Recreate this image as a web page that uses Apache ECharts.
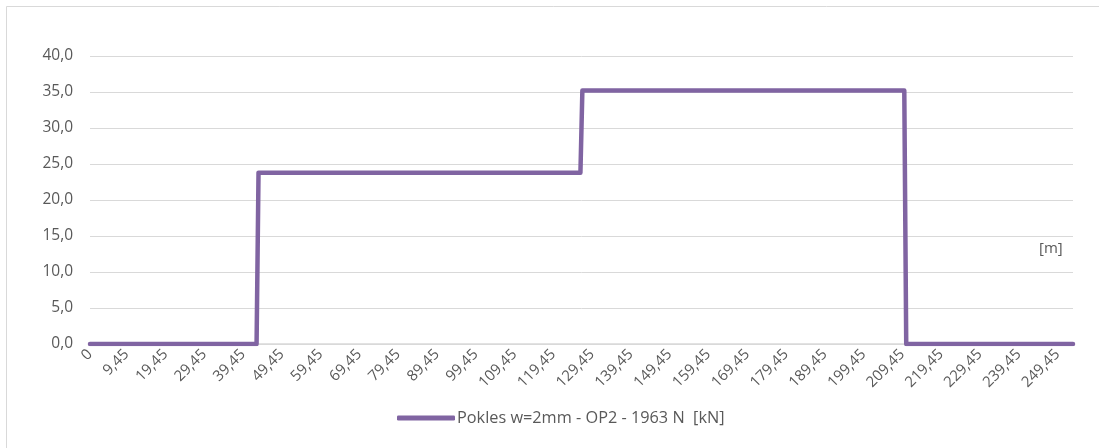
<!DOCTYPE html>
<html>
<head>
<meta charset="utf-8">
<script src="https://cdn.jsdelivr.net/npm/echarts@6/dist/echarts.min.js"></script>
<style>
  html, body { margin: 0; padding: 0; background: #fff; }
  #chart { width: 1099px; height: 448px; }
</style>
</head>
<body>
<div id="chart"></div>
<script>
// Position along the structure [m] and the load at each break point [kN]
const positions = [0, 42.95, 43.45, 126.45, 126.95, 209.95, 210.45, 253.45];
const loads     = [0, 0,     23.8,  23.8,   35.2,   35.2,   0,      0];

// Labelled positions on the horizontal axis
const tickPositions = [0, 9.45, 19.45, 29.45, 39.45, 49.45, 59.45, 69.45, 79.45, 89.45,
  99.45, 109.45, 119.45, 129.45, 139.45, 149.45, 159.45, 169.45, 179.45, 189.45,
  199.45, 209.45, 219.45, 229.45, 239.45, 249.45];

const seriesName = 'Pokles w=2mm - OP2 - 1963 N  [kN]';
const unitLabel = '[m]';

const FONT = '"Open Sans", "Noto Sans", sans-serif';
const TEXT = '#595959';
const GRID = '#d9d9d9';
const PURPLE = '#8064a2';

const chart = echarts.init(document.getElementById('chart'), null, { renderer: 'canvas' });

chart.setOption({
  animation: false,
  backgroundColor: '#fff',
  grid: { left: 90, right: 26, top: 56, bottom: 104, containLabel: false },
  xAxis: {
    type: 'value',
    min: 0,
    max: positions[positions.length - 1],
    axisLine: { show: true, lineStyle: { color: GRID, width: 1.5 } },
    axisTick: { show: false },
    splitLine: { show: false },
    axisLabel: {
      customValues: tickPositions,
      rotate: 45,
      margin: 8,
      color: TEXT,
      fontFamily: FONT,
      fontSize: 15,
      formatter: v => String(v).replace('.', ',')
    }
  },
  yAxis: {
    type: 'value',
    min: 0,
    max: 40,
    interval: 5,
    axisLine: { show: false },
    axisTick: { show: false },
    splitLine: { show: true, lineStyle: { color: GRID, width: 1 } },
    axisLabel: {
      margin: 17,
      color: TEXT,
      fontFamily: FONT,
      fontSize: 15.5,
      formatter: v => v.toFixed(1).replace('.', ',')
    }
  },
  legend: {
    left: 392,
    top: 405,
    icon: 'roundRect',
    itemWidth: 58,
    itemHeight: 5,
    itemGap: 0,
    textStyle: { color: TEXT, fontFamily: FONT, fontSize: 16.3, padding: [0, 0, 0, -3] },
    data: [seriesName]
  },
  graphic: [
    {
      type: 'rect',
      silent: true,
      shape: { x: 6.5, y: 6.5, width: 1200, height: 600 },
      style: { fill: 'none', stroke: GRID, lineWidth: 1 }
    },
    {
      type: 'text',
      left: 1039,
      top: 241,
      style: { text: unitLabel, fill: TEXT, font: '15px ' + FONT }
    }
  ],
  series: [{
    name: seriesName,
    type: 'line',
    data: positions.map((p, i) => [p, loads[i]]),
    showSymbol: false,
    symbol: 'none',
    lineStyle: { color: PURPLE, width: 4.5, cap: 'round', join: 'round' },
    itemStyle: { color: PURPLE }
  }]
});
</script>
</body>
</html>
